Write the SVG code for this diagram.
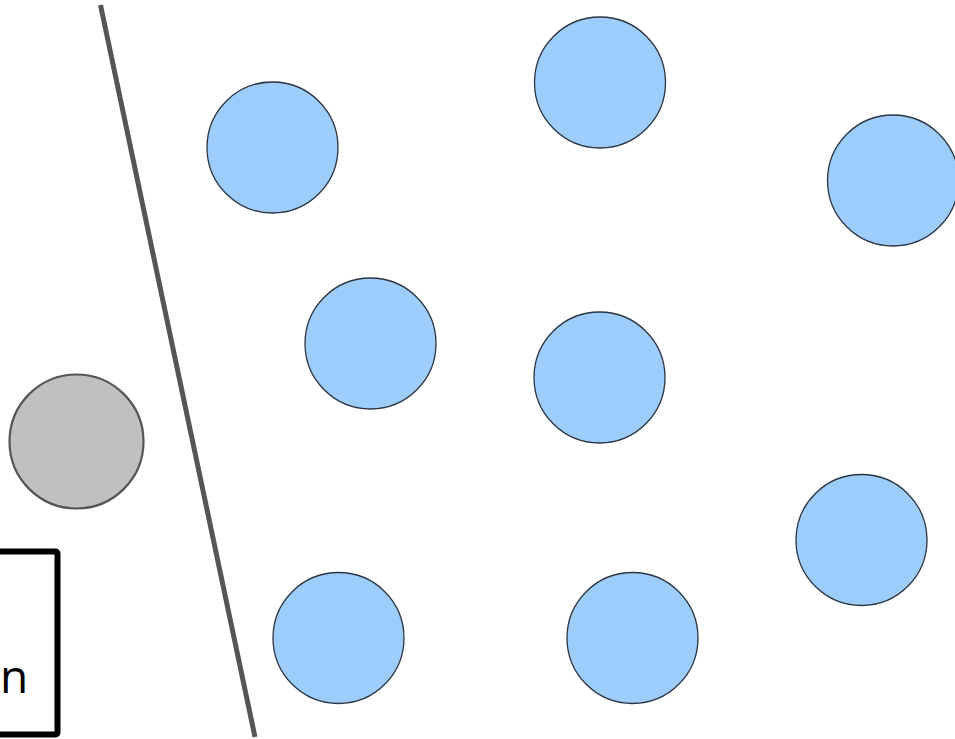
<svg xmlns="http://www.w3.org/2000/svg" width="955" height="739" viewBox="0 0 955 739">
<style>
.b{fill:#9ccdfb;stroke:#2b3440;stroke-width:1.3}
.g{fill:#c0c0c0;stroke:#555;stroke-width:2.2}
.t{font-family:"Open Sans",sans-serif;font-size:46px;fill:#000}
</style>
<rect width="955" height="739" fill="#fff"/>
<g id="connectors">
<line x1="100.5" y1="5" x2="255" y2="737" stroke="#555" stroke-width="5"/>
</g>
<g id="box">
<rect x="-10" y="551.5" width="67.5" height="183" rx="2" fill="none" stroke="#000" stroke-width="6"/>
<text class="t" x="0" y="693">n</text>
</g>
<g id="gray"><circle class="g" cx="76.5" cy="441.5" r="67"/></g>
<g id="c1"><circle class="b" cx="272.5" cy="147.5" r="65.5"/></g>
<g id="c2"><circle class="b" cx="600" cy="82.5" r="65.5"/></g>
<g id="c3"><circle class="b" cx="893" cy="180.5" r="65.5"/></g>
<g id="c4"><circle class="b" cx="370.5" cy="343.5" r="65.5"/></g>
<g id="c5"><circle class="b" cx="599.5" cy="377.5" r="65.5"/></g>
<g id="c6"><circle class="b" cx="861.5" cy="540" r="65.5"/></g>
<g id="c7"><circle class="b" cx="338.5" cy="638" r="65.5"/></g>
<g id="c8"><circle class="b" cx="632.5" cy="638" r="65.5"/></g>
</svg>
